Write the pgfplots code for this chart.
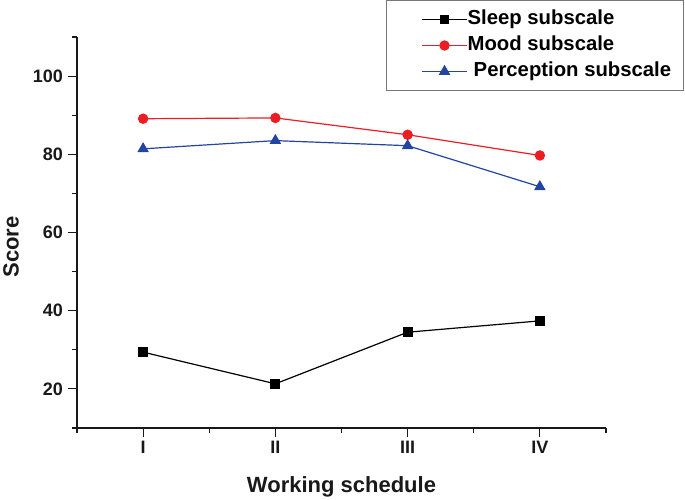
\documentclass[border=0pt]{standalone}
\usepackage{pgfplots}
\pgfplotsset{compat=1.18}
\usepackage{fontspec}
\setmainfont{Liberation Sans}
\definecolor{myred}{RGB}{236,30,36}
\definecolor{myblue}{RGB}{35,68,160}
\definecolor{mygray}{RGB}{120,120,120}
\begin{document}
\begin{tikzpicture}
\begin{axis}[
  scale only axis,
  width=529bp, height=391bp,
  xmin=0.5, xmax=4.5, ymin=10, ymax=110,
  axis lines*=left,
  axis line style={line width=1.2bp, black!90},
  tick align=outside,
  major tick length=9bp, minor tick length=4.5bp,
  every tick/.style={line width=1.1bp, black!90},
  xtick={1,2,3,4}, xticklabels={I,II,III,IV},
  minor xtick={0.5,1.5,2.5,3.5,4.5},
  ytick={20,40,60,80,100},
  minor ytick={10,30,50,70,90,110},
  /pgf/number format/assume math mode=true,
  tick label style={font=\fontsize{18bp}{21bp}\selectfont\bfseries, black!90},
  xticklabel style={inner sep=0pt, anchor=north, yshift=-4bp},
  yticklabel style={inner sep=0pt, anchor=east, xshift=-5bp},
  xlabel={Working schedule},
  ylabel={Score},
  label style={font=\fontsize{22bp}{26bp}\selectfont\bfseries, black!90, inner sep=0pt},
  xlabel style={at={(rel axis cs:0.5,0)}, anchor=north, yshift=-48bp},
  ylabel style={at={([xshift=-74bp]rel axis cs:0,0.463)}, anchor=north},
  legend cell align=left,
  legend style={at={(rel axis cs:0.584,1.0946)}, anchor=north west,
    draw=mygray, line width=1bp, fill=white,
    font=\fontsize{20.3bp}{24bp}\selectfont\bfseries,
    inner xsep=12bp, inner ysep=10bp,
    row sep=8bp, column sep=0pt,
    nodes={inner sep=0pt, text height=14bp, text depth=4bp}},
  legend image code/.code={
    \path (-23bp,0bp);
    \draw[mark repeat=2,mark phase=2] plot coordinates {(0bp,0bp)(22.5bp,0bp)(45bp,0bp)};
  },
]
\addplot[black, line width=1.2bp, mark=square*, mark size=4.3bp, mark options={solid}]
  coordinates {(1,29.4) (2,21.3) (3,34.5) (4,37.4)};
\addlegendentry{Sleep subscale}
\addplot[myred, line width=1.2bp, mark=*, mark size=4.6bp, mark options={solid}]
  coordinates {(1,89.1) (2,89.3) (3,85.0) (4,79.7)};
\addlegendentry{Mood subscale}
\addplot[myblue, line width=1.2bp, mark=triangle*, mark size=5.5bp, mark options={solid}]
  coordinates {(1,81.4) (2,83.5) (3,82.2) (4,71.7)};
\addlegendentry{\hspace{0.3em}Perception subscale}
\coordinate (bl) at (rel axis cs:0,0);
\end{axis}
\pgfresetboundingbox
\path[use as bounding box] (bl) ++(-77bp,-72bp) rectangle ++(685bp,500bp);
\end{tikzpicture}
\end{document}
